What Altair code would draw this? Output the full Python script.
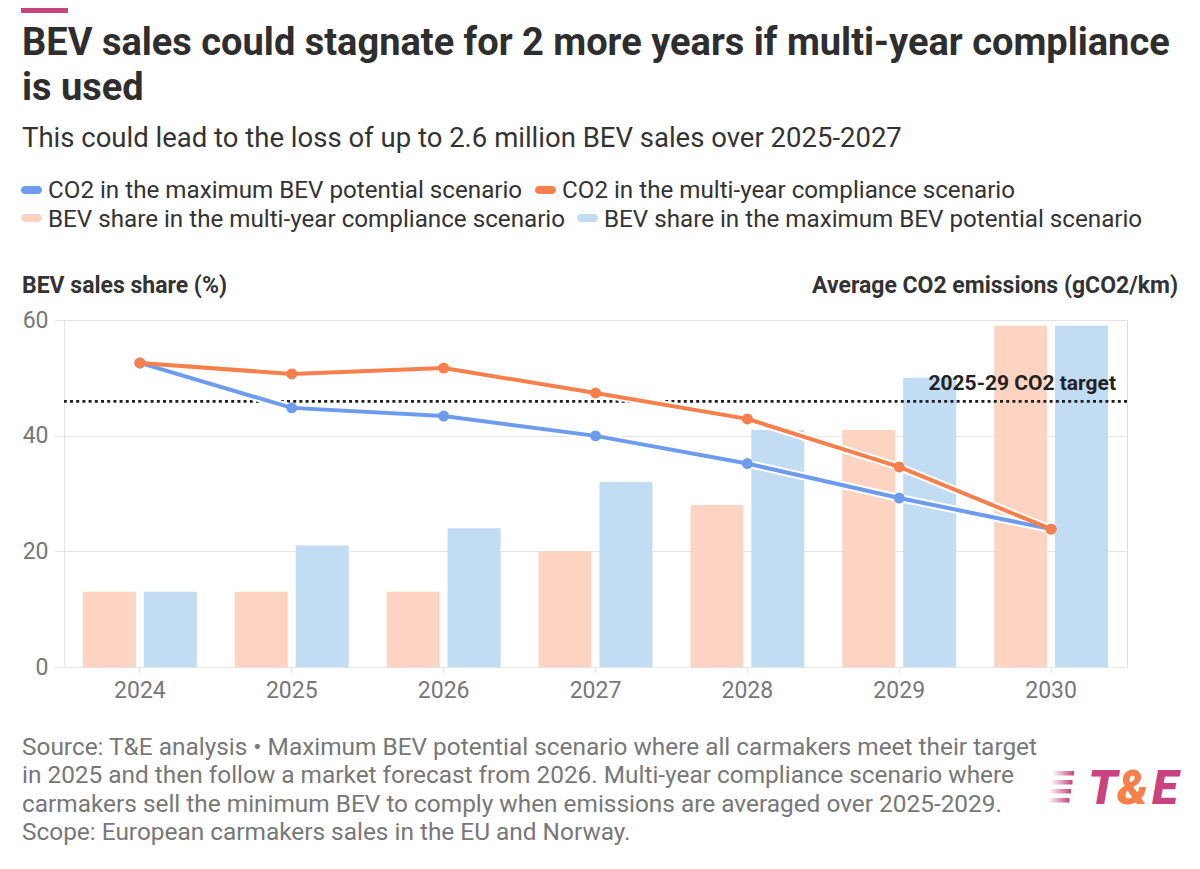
import altair as alt
import pandas as pd

# ---------------- data ----------------
years = ["2024", "2025", "2026", "2027", "2028", "2029", "2030"]
bev_share_multi = [13, 13, 13, 20, 28, 41, 59]
bev_share_max = [13, 21, 24, 32, 41, 50, 59]
co2_max = [107.6, 91.7, 88.8, 81.8, 72.0, 59.8, 48.8]
co2_multi = [107.6, 103.7, 105.8, 97.0, 87.8, 70.8, 48.8]
co2_target = [94.0]

S_CO2_MAX = "CO2 in the maximum BEV potential scenario"
S_CO2_MULTI = "CO2 in the multi-year compliance scenario"
S_BEV_MULTI = "BEV share in the multi-year compliance scenario"
S_BEV_MAX = "BEV share in the maximum BEV potential scenario"

title_lines = ["BEV sales could stagnate for 2 more years if multi-year compliance", "is used"]
subtitle = "This could lead to the loss of up to 2.6 million BEV sales over 2025-2027"
left_title = "BEV sales share (%)"
right_title = "Average CO2 emissions (gCO2/km)"
target_label = "2025-29 CO2 target"
footer_lines = [
    "Source: T&E analysis \u2022 Maximum BEV potential scenario where all carmakers meet their target",
    "in 2025 and then follow a market forecast from 2026. Multi-year compliance scenario where",
    "carmakers sell the minimum BEV to comply when emissions are averaged over 2025-2029.",
    "Scope: European carmakers sales in the EU and Norway.",
]

# ---------------- styles ----------------
BLUE = "#6d9cee"
ORANGE = "#f67f4b"
PEACH = "#fdd4c2"
LIGHTBLUE = "#c2dcf3"
MAGENTA = "#c8437f"
DARK = "#333333"
GREY = "#777777"
GRID = "#e4e4e4"
FONT = "Roboto"

W, H = 1063, 347

bars_df = pd.DataFrame({
    "year": years * 2,
    "series": [S_BEV_MULTI] * len(years) + [S_BEV_MAX] * len(years),
    "share": bev_share_multi + bev_share_max,
})
lines_df = pd.DataFrame({
    "year": years * 2,
    "series": [S_CO2_MAX] * len(years) + [S_CO2_MULTI] * len(years),
    "co2": co2_max + co2_multi,
})

bars = alt.Chart(bars_df).mark_bar().encode(
    x=alt.X("year:N", title=None,
            scale=alt.Scale(paddingInner=0.25, paddingOuter=0.125),
            axis=alt.Axis(labelAngle=0, labelColor=GREY, labelFontSize=23, labelFont=FONT,
                          tickSize=6, tickColor=GRID, domainColor=GRID, labelPadding=6)),
    xOffset=alt.XOffset("series:N", sort=[S_BEV_MULTI, S_BEV_MAX],
                        scale=alt.Scale(domain=[S_BEV_MULTI, S_BEV_MAX], paddingInner=0.13, paddingOuter=0)),
    y=alt.Y("share:Q", title=None,
            scale=alt.Scale(domain=[0, 60], nice=False),
            axis=alt.Axis(orient="left", values=[0, 20, 40, 60], grid=True, gridColor=GRID,
                          domainColor=GRID, tickColor=GRID, tickSize=10, labelPadding=6,
                          labelColor=GREY, labelFontSize=23, labelFont=FONT)),
    color=alt.Color("series:N", legend=None,
                    scale=alt.Scale(domain=[S_BEV_MULTI, S_BEV_MAX], range=[PEACH, LIGHTBLUE])),
)

yco2 = alt.Y("co2:Q", title=None,
             scale=alt.Scale(domain=[0, 122.8], nice=False),
             axis=alt.Axis(orient="right", values=[0, 20, 40, 60, 80, 100, 120], grid=False,
                           domainColor=GRID, tickColor=GRID, tickSize=8, labelPadding=8,
                           labelColor="#444444", labelFontSize=22, labelFont=FONT))
xline = alt.X("year:N", bandPosition=0.5)
line_color = alt.Color("series:N", legend=None,
                       scale=alt.Scale(domain=[S_CO2_MAX, S_CO2_MULTI], range=[BLUE, ORANGE]))

rule = alt.Chart(pd.DataFrame({"co2": co2_target})).mark_rule(
    strokeDash=[3, 3.2], strokeWidth=2.6, color="#1f1f1f"
).encode(y=alt.Y("co2:Q", axis=None, scale=alt.Scale(domain=[0, 122.8], nice=False)))

halo = alt.Chart(lines_df).mark_line(color="white", strokeWidth=8).encode(
    x=xline, y=yco2, detail="series:N")
lines = alt.Chart(lines_df).mark_line(strokeWidth=4).encode(x=xline, y=yco2, color=line_color)
points = alt.Chart(lines_df).mark_circle(size=120, opacity=1).encode(x=xline, y=yco2, color=line_color)

inner = alt.layer(rule, halo, lines, points)


def txt(s, x, y, size, color, weight="normal", align="left", style="normal"):
    return alt.Chart(pd.DataFrame({"t": [s]})).mark_text(
        align=align, baseline="alphabetic", fontSize=size, font=FONT,
        fontWeight=weight, fontStyle=style, color=color
    ).encode(text="t:N", x=alt.value(x), y=alt.value(y))


def box(x1, x2, y1, y2, color, radius=0, opacity=1.0):
    return alt.Chart(pd.DataFrame({"a": [0]})).mark_rect(
        color=color, cornerRadius=radius, opacity=opacity
    ).encode(x=alt.value(x1), x2=alt.value(x2), y=alt.value(y1), y2=alt.value(y2))


texts = []
# top accent bar
texts.append(box(-43, 4, -312, -307, MAGENTA))
# title + subtitle
texts.append(txt(title_lines[0], -42, -265, 38, "#2e2e2e", weight="bold"))
texts.append(txt(title_lines[1], -42, -220, 38, "#2e2e2e", weight="bold"))
texts.append(txt(subtitle, -42, -173, 27.5, DARK))
# legend
texts.append(box(-43, -22, -134, -126, BLUE, radius=4))
texts.append(txt(S_CO2_MAX, -16, -122, 24.2, DARK))
texts.append(box(471, 492, -134, -126, ORANGE, radius=4))
texts.append(txt(S_CO2_MULTI, 498, -122, 24.2, DARK))
texts.append(box(-43, -22, -106, -98, PEACH, radius=4))
texts.append(txt(S_BEV_MULTI, -16, -93, 24.2, DARK))
texts.append(box(513, 534, -106, -98, LIGHTBLUE, radius=4))
texts.append(txt(S_BEV_MAX, 540, -93, 24.2, DARK))
# axis titles
texts.append(txt(left_title, -42, -27, 23, DARK, weight="bold"))
texts.append(txt(right_title, 1114, -27, 23, DARK, weight="bold", align="right"))
# target label
texts.append(txt(target_label, 1052, 70, 21, "#222222", weight="bold", align="right"))
# footer
for i, line in enumerate(footer_lines):
    texts.append(txt(line, -42, 435 + i * 28.4, 24.4, GREY))
# logo
stripe = alt.Gradient(gradient="linear",
                      stops=[alt.GradientStop(color="#ffffff", offset=0),
                             alt.GradientStop(color=MAGENTA, offset=1)],
                      x1=0, x2=1, y1=0, y2=0)
for k, yy in enumerate([451, 460, 469, 478]):
    texts.append(alt.Chart(pd.DataFrame({"a": [0]})).mark_rect(color=stripe).encode(
        x=alt.value(988 - k * 1.5), x2=alt.value(1010 - k * 1.5), y=alt.value(yy), y2=alt.value(yy + 4.5)))
texts.append(txt("T", 1024, 484, 48, MAGENTA, weight=900, style="italic"))
texts.append(txt("&", 1053, 484, 48, ORANGE, weight=900, style="italic"))
texts.append(txt("E", 1088, 484, 48, MAGENTA, weight=900, style="italic"))

chart = alt.layer(bars, inner, *texts).resolve_scale(
    y="independent", color="independent"
).properties(
    width=W, height=H,
    autosize=alt.AutoSizeParams(type="none"),
    padding={"left": 56, "top": 312, "right": 60, "bottom": 190},
).configure_view(stroke=None).configure(font=FONT)

chart.save("out.html", embed_options={"renderer": "svg", "actions": False})
